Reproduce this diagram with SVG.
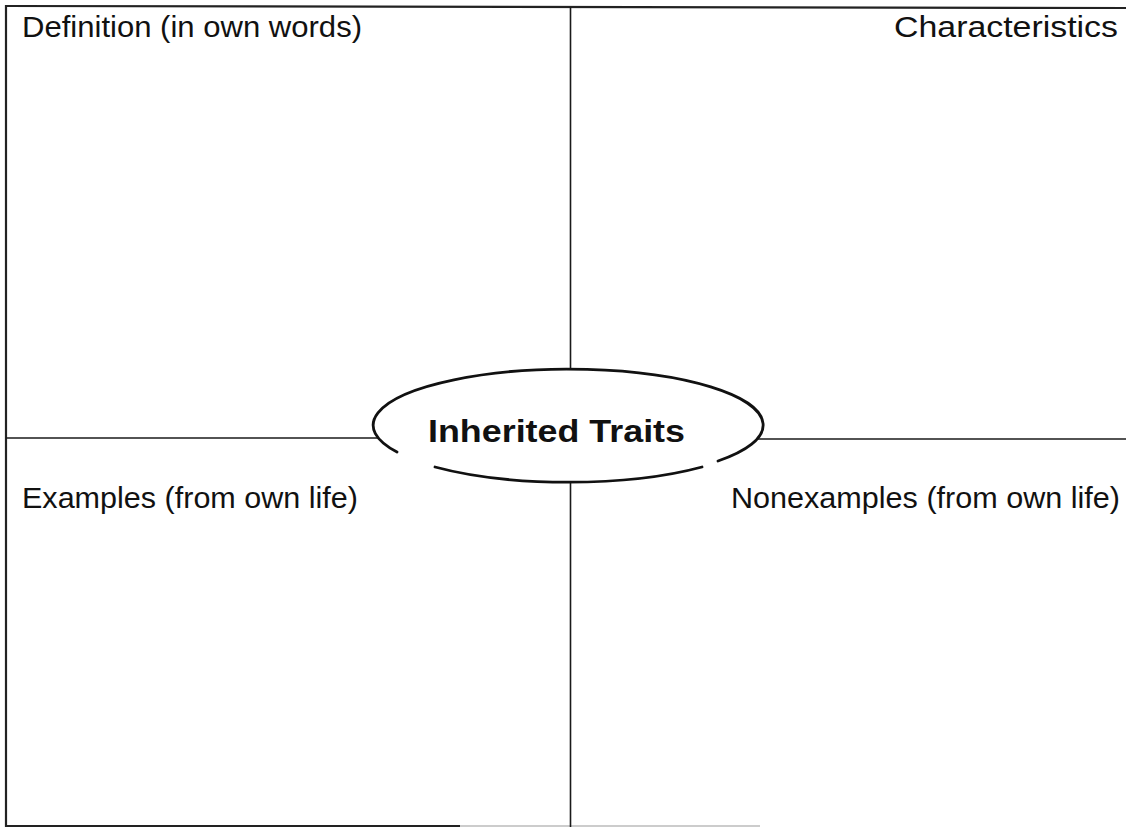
<svg xmlns="http://www.w3.org/2000/svg" width="1126" height="827" viewBox="0 0 1126 827">
<style>
.line{stroke:#1a1a1a;stroke-width:1.6;fill:none}
.border{stroke:#222;stroke-width:2.2;fill:none}
.oval{stroke:#111;stroke-width:2.8;fill:none;stroke-linecap:round}
.lbl{font-family:"Liberation Sans","DejaVu Sans",sans-serif;font-size:29px;fill:#111}
.title{font-family:"Liberation Sans","DejaVu Sans",sans-serif;font-size:32px;font-weight:bold;fill:#111}
</style>
<rect width="1126" height="827" fill="#fff"/>
<g id="frame">
<line class="border" x1="6" y1="5" x2="6" y2="827"/>
<line class="border" x1="5" y1="6" x2="1126" y2="8"/>
<line class="border" x1="5" y1="826" x2="460" y2="826"/>
<line stroke="#bbb" stroke-width="1.5" x1="460" y1="826" x2="760" y2="826"/>
</g>
<g id="connectors">
<line class="line" x1="570.5" y1="7" x2="570.5" y2="369"/>
<line class="line" x1="570.5" y1="481" x2="570.5" y2="827"/>
<line class="line" x1="6" y1="438" x2="378" y2="438"/>
<line class="line" x1="758" y1="439" x2="1126" y2="439"/>
</g>
<g id="definition">
<text class="lbl" x="22" y="37" textLength="340" lengthAdjust="spacingAndGlyphs">Definition (in own words)</text>
</g>
<g id="characteristics">
<text class="lbl" x="1118" y="37" text-anchor="end" textLength="224" lengthAdjust="spacingAndGlyphs">Characteristics</text>
</g>
<g id="examples">
<text class="lbl" x="22" y="508" textLength="336" lengthAdjust="spacingAndGlyphs">Examples (from own life)</text>
</g>
<g id="nonexamples">
<text class="lbl" x="731" y="508" textLength="389" lengthAdjust="spacingAndGlyphs">Nonexamples (from own life)</text>
</g>
<g id="center">
<path class="oval" d="M 397,452 A 195 56 0 1 1 718,461"/>
<path class="oval" d="M 435,467 A 195 56 0 0 0 702,467"/>
<text class="title" x="428" y="442" textLength="257" lengthAdjust="spacingAndGlyphs">Inherited Traits</text>
</g>
</svg>
